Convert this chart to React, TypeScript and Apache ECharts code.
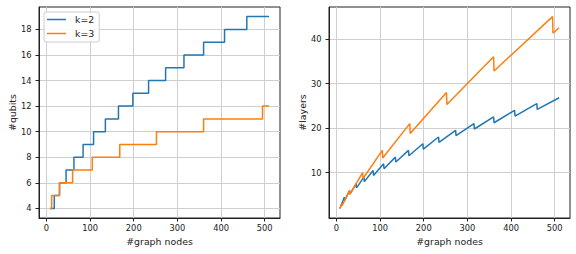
import React, { useEffect, useRef } from "react";
import * as echarts from "echarts";

const seriesNames = ["k=2", "k=3"];
const colors = ["#1f77b4", "#ff7f0e"];

const xTicks = [0, 100, 200, 300, 400, 500];
const qubitTicks = [4, 6, 8, 10, 12, 14, 16, 18];
const layerTicks = [10, 20, 30, 40];

// #qubits step points: value holds from this node count to the next
const k2StepNodes = [8, 18, 30, 45, 63, 84, 108, 135, 165, 198, 234, 273, 315, 360, 408, 459, 510];
const k2StepQubits = [4, 5, 6, 7, 8, 9, 10, 11, 12, 13, 14, 15, 16, 17, 18, 19, 19];
const k3StepNodes = [8, 12, 30, 60, 105, 168, 252, 360, 495, 510];
const k3StepQubits = [4, 5, 6, 7, 8, 9, 10, 11, 12, 12];

// #layers points (start/end of each sawtooth segment)
const k2LayerNodes = [8, 18, 19, 30, 31, 45, 46, 63, 64, 84, 85, 108, 109, 135, 136, 165, 166, 198, 199, 234, 235, 273, 274, 315, 316, 360, 361, 408, 409, 459, 460, 510];
const k2Layers = [2.0, 4.5, 3.8, 6.0, 5.2, 7.5, 6.6, 9.0, 8.0, 10.5, 9.4, 12.0, 10.9, 13.5, 12.4, 15.0, 13.8, 16.5, 15.3, 18.0, 16.8, 19.5, 18.3, 21.0, 19.8, 22.5, 21.2, 24.0, 22.7, 25.5, 24.2, 26.8];
const k3LayerNodes = [8, 12, 13, 30, 31, 60, 61, 105, 106, 168, 169, 252, 253, 360, 361, 495, 496, 510];
const k3Layers = [2.0, 3.0, 2.6, 6.0, 5.2, 10.0, 8.7, 15.0, 13.3, 21.0, 18.8, 28.0, 25.3, 36.0, 32.8, 45.0, 41.3, 42.5];

const zip = (xs: number[], ys: number[]) => xs.map((x, i) => [x, ys[i]]);

const FONT = "DejaVu Sans";
const AXIS_COLOR = "#222";
const GRID_COLOR = "#cfcfcf";
const TICK_FONT = 8.3;
const LABEL_FONT = 9.4;

function xAxisFor(gridIndex: number) {
  return {
    type: "value",
    gridIndex,
    min: -17,
    max: 535,
    name: "#graph nodes",
    nameLocation: "middle",
    nameGap: 17,
    nameTextStyle: { fontFamily: FONT, fontSize: LABEL_FONT, color: AXIS_COLOR },
    axisLine: { show: true, onZero: false, lineStyle: { color: AXIS_COLOR, width: 1 } },
    axisTick: { show: true, length: 3.5, customValues: xTicks, lineStyle: { color: AXIS_COLOR } },
    axisLabel: { customValues: xTicks, margin: 6, fontFamily: FONT, fontSize: TICK_FONT, color: AXIS_COLOR },
    splitLine: { show: true, lineStyle: { color: GRID_COLOR, width: 1 } },
  };
}

function yAxisFor(gridIndex: number, min: number, max: number, ticks: number[], name: string) {
  return {
    type: "value",
    gridIndex,
    min,
    max,
    name,
    nameLocation: "middle",
    nameRotate: 90,
    nameGap: 22,
    nameTextStyle: { fontFamily: FONT, fontSize: LABEL_FONT, color: AXIS_COLOR },
    axisLine: { show: true, onZero: false, lineStyle: { color: AXIS_COLOR, width: 1 } },
    axisTick: { show: true, length: 3.5, customValues: ticks, lineStyle: { color: AXIS_COLOR } },
    axisLabel: { customValues: ticks, margin: 7.5, fontFamily: FONT, fontSize: TICK_FONT, color: AXIS_COLOR },
    splitLine: { show: true, lineStyle: { color: GRID_COLOR, width: 1 } },
  };
}

export default function App() {
  const ref = useRef<HTMLDivElement>(null);
  useEffect(() => {
    if (!ref.current) return;
    const chart = echarts.init(ref.current, undefined, { renderer: "svg" });
    const lineSeries = (name: string, color: string, data: number[][], idx: number, step?: string) => ({
      type: "line",
      name,
      xAxisIndex: idx,
      yAxisIndex: idx,
      data,
      step: step || false,
      showSymbol: false,
      symbol: "none",
      color,
      lineStyle: { color, width: 1.5 },
    });
    chart.setOption({
      animation: false,
      backgroundColor: "#ffffff",
      grid: [
        { left: 39, top: 7, width: 241, height: 211, show: true, borderColor: AXIS_COLOR, borderWidth: 1, containLabel: false },
        { left: 329, top: 7, width: 241, height: 211, show: true, borderColor: AXIS_COLOR, borderWidth: 1, containLabel: false },
      ],
      legend: {
        data: seriesNames,
        orient: "vertical",
        left: 44,
        top: 12,
        icon: "rect",
        itemWidth: 19,
        itemHeight: 1.5,
        itemGap: 3,
        padding: [2, 5, 3, 3],
        backgroundColor: "rgba(255,255,255,0.85)",
        borderColor: "#cccccc",
        borderWidth: 1,
        borderRadius: 2,
        textStyle: { fontFamily: FONT, fontSize: LABEL_FONT, color: AXIS_COLOR, lineHeight: 11, padding: [0, 0, 0, 4] },
      },
      xAxis: [xAxisFor(0), xAxisFor(1)],
      yAxis: [
        yAxisFor(0, 3.25, 19.75, qubitTicks, "#qubits"),
        yAxisFor(1, -0.15, 47.15, layerTicks, "#layers"),
      ],
      series: [
        lineSeries(seriesNames[0], colors[0], zip(k2StepNodes, k2StepQubits), 0, "end"),
        lineSeries(seriesNames[1], colors[1], zip(k3StepNodes, k3StepQubits), 0, "end"),
        lineSeries(seriesNames[0], colors[0], zip(k2LayerNodes, k2Layers), 1),
        lineSeries(seriesNames[1], colors[1], zip(k3LayerNodes, k3Layers), 1),
      ],
    });
    return () => chart.dispose();
  }, []);
  return (
    <div
      ref={ref}
      style={{ position: "fixed", left: 0, top: 0, width: 576, height: 254 }}
    />
  );
}
